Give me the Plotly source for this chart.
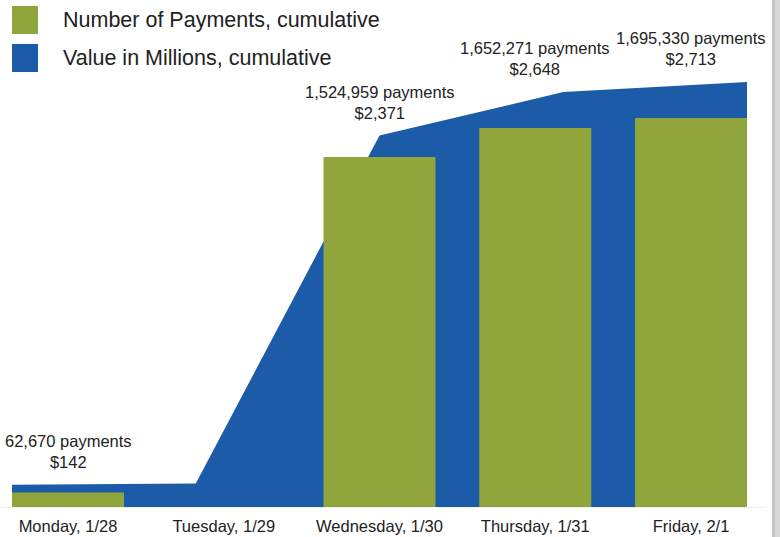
import plotly.graph_objects as go

# ---- data ----
days = ["Monday, 1/28", "Tuesday, 1/29", "Wednesday, 1/30", "Thursday, 1/31", "Friday, 2/1"]
payments_cum = [62670, None, 1524959, 1652271, 1695330]
value_millions_cum = [142, 150, 2371, 2648, 2713]
label_days = ["Monday, 1/28", "Wednesday, 1/30", "Thursday, 1/31", "Friday, 2/1"]
label_payments = ["62,670", "1,524,959", "1,652,271", "1,695,330"]
label_values = ["$142", "$2,371", "$2,648", "$2,713"]

GREEN = "#90a63d"
BLUE = "#1b5ba7"
TEXT = "#222222"
FONT = "Liberation Sans, Arial, sans-serif"

W, H = 780, 537
ML, MR, MT, MB = 0, 15, 0, 30
plot_w = W - ML - MR
plot_h = H - MT - MB

bargap = 0.281
x_range = [-0.4366, 4.475]   # category axis (bars)

# area spans from left edge of first bar to right edge of last bar
h = (1 - bargap) / 2
n = len(days)
scale = (n - 1) / ((n - 1) + 2 * h)
area_range = [(x_range[0] + h) * scale, (x_range[1] + h) * scale]
area_x = list(range(n))

pay_range = [0, 2209600]
val_range = [0, 3236]

fig = go.Figure()

# value area (drawn underneath)
fig.add_trace(go.Scatter(
    x=area_x, y=value_millions_cum, xaxis="x", yaxis="y",
    mode="lines", line=dict(width=0, color=BLUE), fill="tozeroy",
    fillcolor=BLUE, name="Value in Millions, cumulative", showlegend=False,
    hoverinfo="skip",
))

# payment bars (overlaying, drawn on top)
fig.add_trace(go.Bar(
    x=days, y=payments_cum, xaxis="x2", yaxis="y2",
    marker=dict(color=GREEN, line=dict(width=0)),
    name="Number of Payments, cumulative", showlegend=False,
))

annotations = []
for d, p, v in zip(label_days, label_payments, label_values):
    vi = value_millions_cum[days.index(d)]
    annotations.append(dict(
        x=d, y=vi, xref="x2", yref="y", yanchor="bottom", yshift=12,
        text=f"{p} payments<br>{v}", showarrow=False, align="center",
        font=dict(size=16.5, color=TEXT, family=FONT),
    ))

def px_to_paper_x(px):
    return (px - ML) / plot_w

def py_to_paper_y(py):
    return (H - MB - py) / plot_h

legend_items = [("Number of Payments, cumulative", GREEN, 20), ("Value in Millions, cumulative", BLUE, 58)]
shapes = []
for text, col, cy in legend_items:
    shapes.append(dict(type="rect", xref="paper", yref="paper",
                       x0=px_to_paper_x(12), x1=px_to_paper_x(38),
                       y0=py_to_paper_y(cy + 14), y1=py_to_paper_y(cy - 14),
                       fillcolor=col, line=dict(width=0), layer="above"))
    annotations.append(dict(x=px_to_paper_x(61), y=py_to_paper_y(cy), xref="paper", yref="paper",
                            xanchor="left", yanchor="middle", text=text, showarrow=False,
                            font=dict(size=21.5, color=TEXT, family=FONT)))

# right frame strip
shapes.append(dict(type="rect", xref="paper", yref="paper",
                   x0=px_to_paper_x(772), x1=px_to_paper_x(781),
                   y0=py_to_paper_y(H + 2), y1=py_to_paper_y(-2),
                   fillcolor="#d9d9d9", line=dict(width=0), layer="above"))
shapes.append(dict(type="rect", xref="paper", yref="paper",
                   x0=px_to_paper_x(772), x1=px_to_paper_x(775),
                   y0=py_to_paper_y(H + 2), y1=py_to_paper_y(-2),
                   fillcolor="#c6c6c6", line=dict(width=0), layer="above"))

fig.update_layout(
    width=W, height=H,
    margin=dict(l=ML, r=MR, t=MT, b=MB, pad=0),
    paper_bgcolor="white", plot_bgcolor="white",
    bargap=bargap,
    showlegend=False,
    xaxis=dict(range=area_range, visible=False),
    yaxis=dict(range=val_range, visible=False),
    xaxis2=dict(type="category", range=x_range, overlaying="x", side="bottom",
                showgrid=False, zeroline=False,
                showline=True, linecolor="#eeeeee", linewidth=1, ticks="",
                ticklabelstandoff=4,
                tickfont=dict(size=16.5, color=TEXT, family=FONT)),
    yaxis2=dict(range=pay_range, overlaying="y", visible=False),
    annotations=annotations,
    shapes=shapes,
)

fig.write_html("out.html", config={"displayModeBar": False},
               post_script="document.body.style.margin='0';document.body.style.overflow='hidden';")
